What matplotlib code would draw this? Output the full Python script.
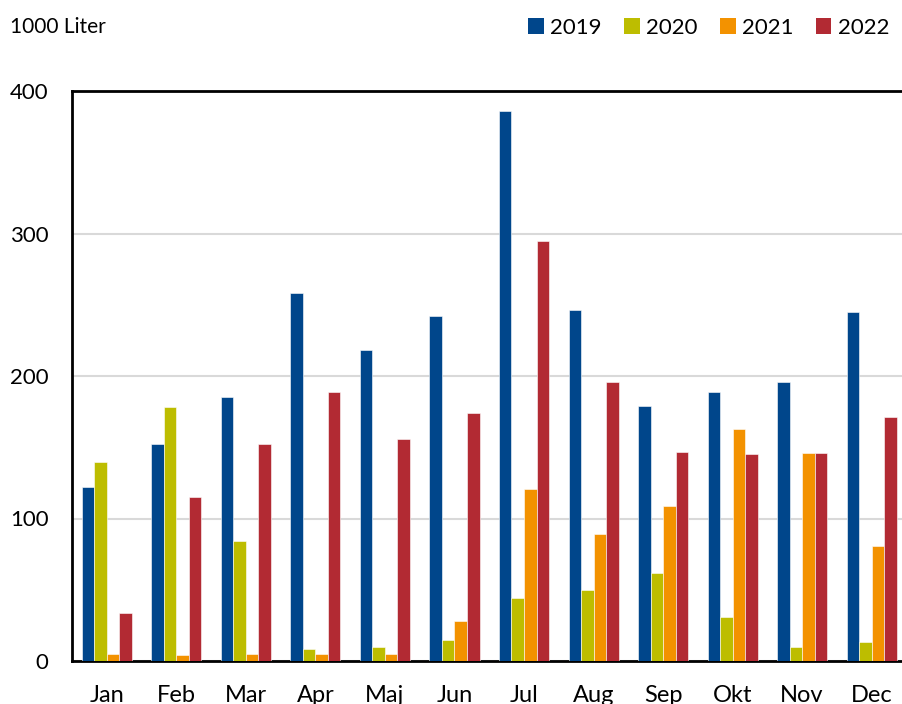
import matplotlib
matplotlib.use("Agg")
import matplotlib.pyplot as plt
import numpy as np
from matplotlib.patches import Patch

months = ["Jan", "Feb", "Mar", "Apr", "Maj", "Jun", "Jul", "Aug", "Sep", "Okt", "Nov", "Dec"]
years = ["2019", "2020", "2021", "2022"]
v2019 = [122, 152, 185, 258, 218, 242, 386, 246, 179, 189, 196, 245]
v2020 = [140, 178, 84, 8.5, 10, 15, 44, 50, 62, 31, 10, 13]
v2021 = [5, 4, 5, 5, 5, 28, 121, 89, 109, 163, 146, 81]
v2022 = [34, 115, 152, 189, 156, 174, 295, 196, 147, 145, 146, 171]
series = [v2019, v2020, v2021, v2022]
colors = ["#00468B", "#BDBD00", "#F39200", "#B22A33"]

plt.rcParams['font.family'] = ['Lato', 'DejaVu Sans']

fig = plt.figure(figsize=(9.03, 7.04), dpi=100)
ax = fig.add_axes([72/903, 43/704, 1 - 72/903, (661-91)/704])

x = np.arange(len(months))
w = 0.18
for i, (s, c) in enumerate(zip(series, colors)):
    ax.bar(x + (i - 1.5) * w, s, width=w, color=c, edgecolor="white", linewidth=0.4, zorder=3)

ax.set_xlim(-0.5, 11.45)
ax.set_ylim(0, 400)
ax.set_yticks([0, 100, 200, 300, 400])
ax.set_xticks(x)
ax.set_xticklabels(months, fontsize=17)
ax.tick_params(axis="y", labelsize=16, length=0, pad=17)
ax.tick_params(axis="x", length=0, pad=17)
ax.yaxis.grid(True, color="#D9D9D9", linewidth=1.5, zorder=0)
ax.set_axisbelow(True)
for sp in ["left", "bottom", "top"]:
    ax.spines[sp].set_color("black")
    ax.spines[sp].set_linewidth(2)
ax.spines["right"].set_visible(False)

fig.text(10/903, 1 - 27/704, "1000 Liter", fontsize=15, va="center", ha="left")

handles = [Patch(facecolor=c, edgecolor="none") for c in colors]
fig.legend(handles, years, loc="center right", bbox_to_anchor=(1.0, 1 - 28/704),
           ncol=4, frameon=False, fontsize=16, handlelength=0.7, handleheight=0.7,
           handletextpad=0.3, columnspacing=1.0, borderaxespad=0.2)

fig.savefig("out.png", dpi=100)
